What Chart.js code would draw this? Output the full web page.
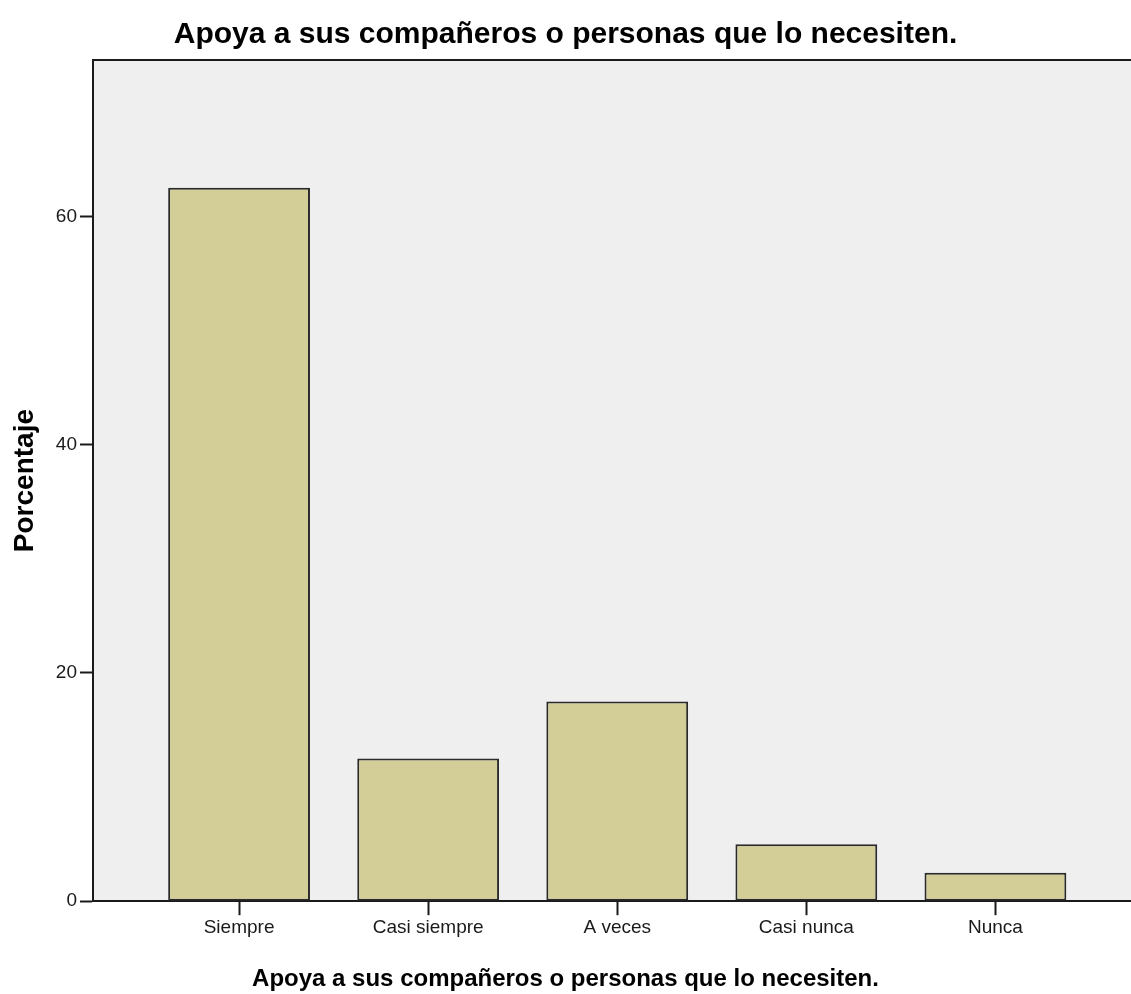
<!DOCTYPE html>
<html>
<head>
<meta charset="utf-8">
<script src="https://cdn.jsdelivr.net/npm/chart.js@4.4.1/dist/chart.umd.min.js"></script>
<style>
  body { margin: 0; background: #ffffff; }
  canvas { display: block; }
</style>
</head>
<body>
<canvas id="mycanvas" width="1131" height="994"></canvas>
<script>
// data
var categories = ['Siempre', 'Casi siempre', 'A veces', 'Casi nunca', 'Nunca'];
var porcentaje = [62.5, 12.5, 17.5, 5, 2.5];
var yTicks = [0, 20, 40, 60];
var titulo = 'Apoya a sus compañeros o personas que lo necesiten.';

var fontName = "'Liberation Sans', Arial, sans-serif";

// grey plot background and top border line, like SPSS output
var plotFrame = {
  id: 'plotFrame',
  beforeDraw: function(chart) {
    var a = chart.chartArea;
    var ctx = chart.ctx;
    ctx.save();
    ctx.fillStyle = '#efefef';
    ctx.fillRect(a.left, a.top, a.right - a.left, a.bottom - a.top);
    ctx.restore();
  },
  afterDraw: function(chart) {
    var a = chart.chartArea;
    var ctx = chart.ctx;
    ctx.save();
    ctx.strokeStyle = '#1a1a1a';
    ctx.lineWidth = 2;
    ctx.beginPath();
    ctx.moveTo(a.left, a.top);
    ctx.lineTo(a.right, a.top);
    ctx.stroke();
    ctx.restore();
  }
};

var points = [];
for (var i in porcentaje) {
  points.push({ x: Number(i), y: porcentaje[i] });
}

var ctx = document.getElementById('mycanvas');

var barGraph = new Chart(ctx, {
  type: 'bar',
  data: {
    datasets: [
      {
        label: 'Porcentaje',
        data: points,
        backgroundColor: '#d3cd97',
        borderColor: '#2a2a2a',
        borderWidth: 2,
        borderSkipped: false,
        categoryPercentage: 1,
        barPercentage: 0.75
      }
    ]
  },
  plugins: [plotFrame],
  options: {
    responsive: false,
    animation: false,
    layout: { padding: 0 },
    plugins: {
      legend: { display: false },
      tooltip: { enabled: false },
      title: {
        display: true,
        text: titulo,
        color: '#000',
        font: { family: fontName, size: 30, weight: 'bold' },
        padding: { top: 17, bottom: 7 }
      },
      subtitle: {
        display: true,
        position: 'bottom',
        text: titulo,
        color: '#000',
        font: { family: fontName, size: 24, weight: 'bold' },
        padding: { top: 0, bottom: 0 }
      }
    },
    scales: {
      x: {
        type: 'linear',
        min: -0.7725,
        max: 4.717,
        offset: false,
        afterBuildTicks: function(scale) {
          scale.ticks = categories.map(function(c, k) { return { value: k }; });
        },
        afterFit: function(scale) { scale.height = 64; },
        grid: {
          offset: false,
          drawOnChartArea: false,
          drawTicks: true,
          tickLength: 14,
          tickWidth: 2,
          tickColor: '#1a1a1a'
        },
        border: { display: true, color: '#1a1a1a', width: 2 },
        ticks: {
          padding: 1,
          color: '#1a1a1a',
          maxRotation: 0,
          autoSkip: false,
          font: { family: fontName, size: 19 },
          callback: function(value) { return categories[value]; }
        }
      },
      y: {
        min: 0,
        max: 73.7,
        afterBuildTicks: function(scale) {
          scale.ticks = yTicks.map(function(v) { return { value: v }; });
        },
        afterFit: function(scale) { scale.width = 93; },
        grid: {
          drawOnChartArea: false,
          drawTicks: true,
          tickLength: 13,
          tickWidth: 2,
          tickColor: '#1a1a1a'
        },
        border: { display: true, color: '#1a1a1a', width: 2 },
        ticks: {
          padding: 3,
          color: '#1a1a1a',
          font: { family: fontName, size: 19 }
        },
        title: {
          display: true,
          text: 'Porcentaje',
          color: '#000',
          padding: { top: 8, bottom: 0 },
          font: { family: fontName, size: 28, weight: 'bold' }
        }
      }
    }
  }
});
</script>
</body>
</html>
